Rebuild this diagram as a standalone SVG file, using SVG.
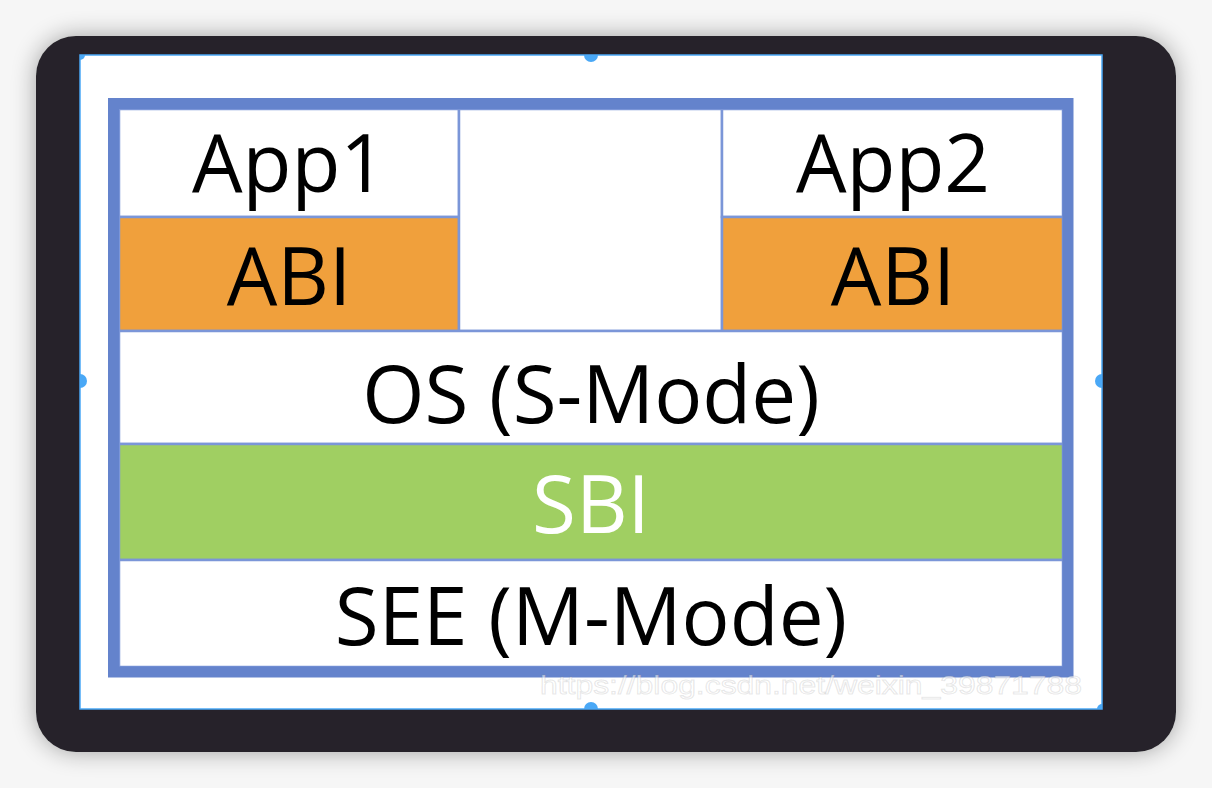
<svg xmlns="http://www.w3.org/2000/svg" width="1212" height="788" viewBox="0 0 1212 788">
  <defs>
    <filter id="shadow" x="-10%" y="-10%" width="120%" height="120%">
      <feGaussianBlur in="SourceAlpha" stdDeviation="12"/>
      <feComponentTransfer><feFuncA type="linear" slope="0.35"/></feComponentTransfer>
      <feMerge><feMergeNode/><feMergeNode in="SourceGraphic"/></feMerge>
    </filter>
    <clipPath id="panelClip"><rect x="80" y="55" width="1022" height="654"/></clipPath>
    <style>
      .lbl { font-family: "Open Sans", "Noto Sans", "Liberation Sans", sans-serif; font-size: 80px; text-anchor: middle; fill: #000; }
      .white { fill: #fff; }
      .cell { stroke: #7B96D8; stroke-width: 2.5; }
      .handle { fill: #4AA8F6; }
      .wm { font-family: "Liberation Sans", Arial, sans-serif; font-size: 26px; fill: #ffffff; fill-opacity: 0.55; stroke: #888; stroke-opacity: 0.2; stroke-width: 1; }
    </style>
  </defs>

  <rect x="0" y="0" width="1212" height="788" fill="#f6f6f6"/>
  <rect x="36" y="36" width="1140" height="716" rx="40" ry="40" fill="#252429" filter="url(#shadow)"/>

  <!-- image panel -->
  <rect x="80" y="55" width="1022" height="654" fill="#ffffff" stroke="#4AA8F6" stroke-width="1.5"/>

  <g id="cells">
    <g id="app1">
      <rect class="cell" x="119" y="109" width="340" height="108" fill="#ffffff"/>
      <text class="lbl" x="289" y="192">App1</text>
    </g>
    <g id="abi1">
      <rect class="cell" x="119" y="217" width="340" height="114" fill="#F0A03C"/>
      <text class="lbl" x="289" y="305">ABI</text>
    </g>
    <g id="middle">
      <rect class="cell" x="459" y="109" width="263" height="222" fill="#ffffff"/>
    </g>
    <g id="app2">
      <rect class="cell" x="722" y="109" width="341" height="108" fill="#ffffff"/>
      <text class="lbl" x="893" y="192">App2</text>
    </g>
    <g id="abi2">
      <rect class="cell" x="722" y="217" width="341" height="114" fill="#F0A03C"/>
      <text class="lbl" x="893" y="305">ABI</text>
    </g>
    <g id="os">
      <rect class="cell" x="119" y="331" width="944" height="113" fill="#ffffff"/>
      <text class="lbl" x="591" y="423">OS (S-Mode)</text>
    </g>
    <g id="sbi">
      <rect class="cell" x="119" y="444" width="944" height="116" fill="#A0CF62"/>
      <text class="lbl white" x="591" y="533">SBI</text>
    </g>
    <g id="see">
      <rect class="cell" x="119" y="560" width="944" height="107" fill="#ffffff"/>
      <text class="lbl" x="591" y="645">SEE (M-Mode)</text>
    </g>
  </g>

  <g id="frame">
    <rect x="113.5" y="103.5" width="954.5" height="568.5" fill="none" stroke="#6483CC" stroke-width="11"/>
  </g>

  <text class="wm" x="540" y="694" textLength="542" lengthAdjust="spacingAndGlyphs">https://blog.csdn.net/weixin_39871788</text>

  <g id="handles" clip-path="url(#panelClip)">
    <circle class="handle" cx="591" cy="55" r="7"/>
    <circle class="handle" cx="80" cy="381" r="7"/>
    <circle class="handle" cx="1102" cy="381" r="7"/>
    <circle class="handle" cx="591" cy="709" r="7"/>
    <circle class="handle" cx="80" cy="55" r="5"/>
    <circle class="handle" cx="1102" cy="709" r="5"/>
  </g>
</svg>
